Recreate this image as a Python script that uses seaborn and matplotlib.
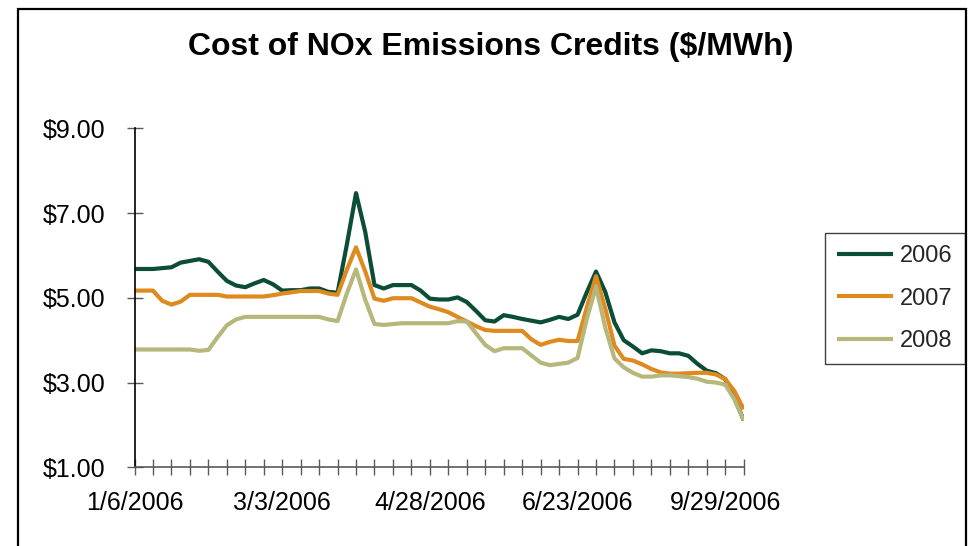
import numpy as np
import pandas as pd
import matplotlib
matplotlib.use("Agg")
import matplotlib.pyplot as plt
import matplotlib.patches as mpatches
from matplotlib.ticker import MultipleLocator, FixedLocator, FuncFormatter
import seaborn as sns

# ---- data (values read at half-week steps, 67 points, weeks 0..33) ----
series_names = ["2006", "2007", "2008"]

cost_2006 = [5.68, 5.68, 5.68, 5.70, 5.72, 5.83, 5.87, 5.91, 5.85, 5.62,
             5.40, 5.29, 5.25, 5.34, 5.42, 5.32, 5.17, 5.18, 5.18, 5.22,
             5.22, 5.14, 5.12, 6.25, 7.47, 6.55, 5.30, 5.22, 5.30, 5.30,
             5.30, 5.17, 4.98, 4.96, 4.96, 5.01, 4.90, 4.69, 4.47, 4.44,
             4.59, 4.55, 4.50, 4.46, 4.42, 4.48, 4.55, 4.50, 4.60, 5.13,
             5.62, 5.14, 4.42, 4.00, 3.85, 3.69, 3.76, 3.74, 3.69, 3.69,
             3.63, 3.44, 3.28, 3.22, 3.08, 2.63, 2.11]

cost_2007 = [5.17, 5.17, 5.17, 4.93, 4.84, 4.91, 5.07, 5.07, 5.07, 5.07,
             5.03, 5.03, 5.03, 5.03, 5.03, 5.06, 5.10, 5.13, 5.16, 5.16,
             5.16, 5.10, 5.07, 5.66, 6.19, 5.62, 4.98, 4.93, 4.99, 4.99,
             4.99, 4.89, 4.79, 4.73, 4.66, 4.55, 4.44, 4.33, 4.24, 4.22,
             4.22, 4.22, 4.22, 4.02, 3.89, 3.96, 4.01, 3.98, 3.98, 4.77,
             5.51, 4.75, 3.87, 3.56, 3.52, 3.43, 3.32, 3.24, 3.21, 3.21,
             3.22, 3.23, 3.23, 3.19, 3.08, 2.80, 2.37]

cost_2008 = [3.78, 3.78, 3.78, 3.78, 3.78, 3.78, 3.78, 3.75, 3.77, 4.07,
             4.35, 4.49, 4.55, 4.55, 4.55, 4.55, 4.55, 4.55, 4.55, 4.55,
             4.55, 4.49, 4.45, 5.10, 5.67, 4.95, 4.38, 4.36, 4.38, 4.40,
             4.40, 4.40, 4.40, 4.40, 4.40, 4.45, 4.44, 4.16, 3.89, 3.74,
             3.81, 3.81, 3.81, 3.64, 3.47, 3.41, 3.44, 3.47, 3.58, 4.50,
             5.26, 4.30, 3.57, 3.36, 3.23, 3.14, 3.14, 3.17, 3.17, 3.15,
             3.13, 3.09, 3.02, 3.00, 2.95, 2.60, 2.11]

tick_labels = ["1/6/2006", "3/3/2006", "4/28/2006", "6/23/2006", "9/29/2006"]
label_every = 8          # weeks between labelled categories
n_weeks = 34             # number of weekly categories (tick marks)
y_ticks = [1, 3, 5, 7, 9]

colors = ["#0C4D38", "#DF8A1F", "#B7B77B"]
title = "Cost of NOx Emissions Credits ($/MWh)"

# ---- build long-form table ----
steps = len(cost_2006)
week_pos = np.arange(steps) / 2.0
df = pd.concat([
    pd.DataFrame({"week": week_pos, "cost": vals, "year": name})
    for name, vals in zip(series_names, [cost_2006, cost_2007, cost_2008])
], ignore_index=True)

sns.set_style("white")
plt.rcParams["font.family"] = ["Liberation Sans", "DejaVu Sans"]

fig = plt.figure(figsize=(9.71, 5.46), dpi=100)
ax = fig.add_axes([134.5 / 971, (546 - 467.3) / 546, (743.7 - 134.5) / 971, (467.3 - 128.3) / 546])

sns.lineplot(data=df, x="week", y="cost", hue="year", palette=colors,
             estimator=None, sort=False, linewidth=3.0, ax=ax, legend=True)
for ln in ax.get_lines():
    ln.set_solid_joinstyle("round")
    ln.set_solid_capstyle("butt")

ax.set_xlim(0, n_weeks - 1)
ax.set_ylim(y_ticks[0], y_ticks[-1])
ax.set_xlabel("")
ax.set_ylabel("")

# x axis: tick at every week, label every 8 weeks
major_pos = [i * label_every for i in range(len(tick_labels))]
ax.xaxis.set_major_locator(FixedLocator(major_pos))
ax.set_xticklabels(tick_labels)
ax.xaxis.set_minor_locator(MultipleLocator(1))
ax.tick_params(axis="x", which="both", direction="inout", length=11.5, width=1.0,
               color="#5a5a5a", bottom=True)
ax.tick_params(axis="x", which="major", pad=11.5, labelsize=18, labelcolor="black")

ax.set_yticks(y_ticks)
ax.yaxis.set_major_formatter(FuncFormatter(lambda v, p: f"${v:.2f}"))
ax.tick_params(axis="y", which="major", direction="inout", length=12, width=1.0,
               color="#5a5a5a", left=True, pad=15, labelsize=18, labelcolor="black")

for s in ["top", "right"]:
    ax.spines[s].set_visible(False)
ax.spines["left"].set_color("black")
ax.spines["left"].set_linewidth(1.2)
ax.spines["bottom"].set_color("#5a5a5a")
ax.spines["bottom"].set_linewidth(1.2)
ax.grid(False)

# legend
handles, labels = ax.get_legend_handles_labels()
ax.legend(handles, labels, loc="upper left",
          bbox_to_anchor=(825 / 971, 1 - 233 / 546), bbox_transform=fig.transFigure,
          borderaxespad=0, frameon=True, fancybox=False, shadow=False,
          edgecolor="#404040", framealpha=1, fontsize=17, handlelength=2.35,
          handletextpad=0.3, labelspacing=0.86, borderpad=0.52)
leg = ax.get_legend()
leg.get_frame().set_linewidth(1.0)
for lh in leg.get_lines():
    lh.set_linewidth(3.0)

# title
fig.text(491 / 971, 1 - 47 / 546, title, ha="center", va="center",
         fontsize=23, fontweight="bold", color="black")

# outer chart border
fig.add_artist(mpatches.Rectangle((18 / 971, -0.05), (966 - 18) / 971, (1 - 9 / 546) + 0.05,
                                  transform=fig.transFigure, fill=False,
                                  edgecolor="black", linewidth=1.6))

fig.savefig("out.png", dpi=100)
